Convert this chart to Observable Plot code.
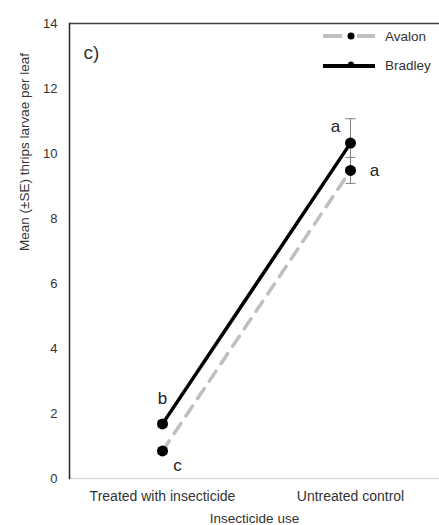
<!DOCTYPE html>
<html>
<head>
<meta charset="utf-8">
<script src="https://cdn.jsdelivr.net/npm/d3@7"></script>
<script src="https://cdn.jsdelivr.net/npm/@observablehq/plot@0.6"></script>
<style>
  html, body { margin: 0; padding: 0; background: #fff; }
  #wrap { position: relative; width: 439px; height: 525px; font-family: "Liberation Sans", Arial, sans-serif; }
  #legend { position: absolute; left: 323px; top: 28px; font-size: 13.5px; color: #333; }
  .row { display: flex; align-items: center; height: 29px; }
  .row svg { display: block; margin-right: 8px; }
</style>
</head>
<body>
<div id="wrap">
  <div id="chart"></div>
  <div id="legend">
    <div class="row" style="height:16px;margin-bottom:13px">
      <svg width="54" height="14"><line x1="0" x2="19" y1="7" y2="7" stroke="#bfbfbf" stroke-width="4"/><circle cx="28" cy="7" r="3.5" fill="#000"/><line x1="34" x2="52" y1="7" y2="7" stroke="#bfbfbf" stroke-width="4"/></svg><span>Avalon</span>
    </div>
    <div class="row" style="height:16px">
      <svg width="54" height="14"><line x1="0" x2="52" y1="8" y2="8" stroke="#000" stroke-width="4"/><circle cx="28" cy="6.5" r="3" fill="#000"/></svg><span>Bradley</span>
    </div>
  </div>
</div>
<script>
const categories = ["Treated with insecticide", "Untreated control"];
const avalonMean = [0.85, 9.48];
const avalonSE = [0.1, 0.4];
const avalonLetters = ["c", "a"];
const bradleyMean = [1.68, 10.32];
const bradleySE = [0.1, 0.75];
const bradleyLetters = ["b", "a"];
const yTicks = [0, 2, 4, 6, 8, 10, 12, 14];

const avalon = categories.map((c, i) => ({cat: c, mean: avalonMean[i], se: avalonSE[i], letter: avalonLetters[i]}));
const bradley = categories.map((c, i) => ({cat: c, mean: bradleyMean[i], se: bradleySE[i], letter: bradleyLetters[i]}));
const all = avalon.concat(bradley);

const capSymbol = {
  draw(context, size) {
    const w = Math.sqrt(size / Math.PI);
    context.moveTo(-w, 0);
    context.lineTo(w, 0);
  }
};

const chart = Plot.plot({
  width: 439,
  height: 525,
  marginTop: 23,
  marginBottom: 47,
  marginLeft: 69,
  marginRight: 0,
  style: {fontFamily: "Liberation Sans, Arial, sans-serif", fontSize: "13px", color: "#333", background: "#fff"},
  x: {type: "point", domain: categories, range: [162, 350], padding: 0, axis: null},
  y: {domain: [0, 14], axis: null},
  marks: [
    Plot.ruleY([0], {stroke: "#d9d9d9", strokeWidth: 1.5}),
    Plot.ruleY([14], {stroke: "#404040", strokeWidth: 1.5}),
    Plot.frame({anchor: "left", stroke: "#262626", strokeWidth: 1.5}),
    Plot.axisY({ticks: yTicks, tickSize: 0, tickPadding: 12, fontSize: 13, label: null}),
    Plot.axisX({tickSize: 0, tickPadding: 13, fontSize: 14, label: null}),
    Plot.text(["Insecticide use"], {frameAnchor: "bottom", dy: 40, lineAnchor: "middle", fontSize: 13.5}),
    Plot.text(["Mean (\u00b1SE) thrips larvae per leaf"], {frameAnchor: "left", dx: -45, rotate: -90, lineAnchor: "middle", fontSize: 13.5}),
    Plot.text(["c)"], {frameAnchor: "top-left", dx: 14, dy: 29, textAnchor: "start", lineAnchor: "middle", fontSize: 19}),
    Plot.ruleX(all, {x: "cat", y1: d => d.mean - d.se, y2: d => d.mean + d.se, stroke: "#7f7f7f", strokeWidth: 1}),
    Plot.dot(all, {x: "cat", y: d => d.mean - d.se, symbol: capSymbol, r: 5, stroke: "#7f7f7f", fill: "none", strokeWidth: 1}),
    Plot.dot(all, {x: "cat", y: d => d.mean + d.se, symbol: capSymbol, r: 5, stroke: "#7f7f7f", fill: "none", strokeWidth: 1}),
    Plot.line(avalon, {x: "cat", y: "mean", stroke: "#bfbfbf", strokeWidth: 3.5, strokeDasharray: "12,9"}),
    Plot.line(bradley, {x: "cat", y: "mean", stroke: "#000", strokeWidth: 3.5}),
    Plot.dot(all, {x: "cat", y: "mean", r: 5.5, fill: "#000"}),
    Plot.text([bradley[0]], {x: "cat", y: "mean", text: "letter", dy: -25, fontSize: 17, fill: "#222"}),
    Plot.text([bradley[1]], {x: "cat", y: "mean", text: "letter", dx: -15, dy: -17, fontSize: 17, fill: "#222"}),
    Plot.text([avalon[0]], {x: "cat", y: "mean", text: "letter", dx: 15, dy: 15, fontSize: 17, fill: "#222"}),
    Plot.text([avalon[1]], {x: "cat", y: "mean", text: "letter", dx: 24, dy: 0, fontSize: 17, fill: "#222"})
  ]
});
document.getElementById("chart").appendChild(chart);
</script>
</body>
</html>
